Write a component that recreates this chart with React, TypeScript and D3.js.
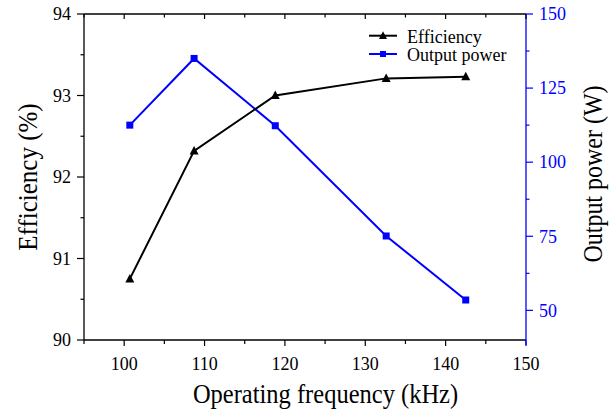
import React from "react";
import * as d3 from "d3";

const freq = [100.7, 108.7, 118.8, 132.6, 142.5];
const efficiency = [90.75, 92.32, 93.0, 93.21, 93.23];
const power = [112.5, 135.0, 112.3, 75.1, 53.5];
const xTicks = [100, 110, 120, 130, 140, 150];
const xMinor = [95, 105, 115, 125, 135, 145];
const effTicks = [90, 91, 92, 93, 94];
const effMinor = [90.5, 91.5, 92.5, 93.5];
const powTicks = [50, 75, 100, 125, 150];
const powMinor = [62.5, 87.5, 112.5, 137.5];

const W = 615, H = 417;
const L = 84, R = 526, T = 14, B = 340;
const FONT = "'Liberation Serif', 'Times New Roman', serif";
const BLUE = "#0000ff";

const x = d3.scaleLinear().domain([95, 150]).range([L, R]);
const yE = d3.scaleLinear().domain([90, 94]).range([B, T]);
const yP = d3.scaleLinear().domain([40, 150]).range([B, T]);

const tri = (cx: number, cy: number, s: number) =>
  `M${cx},${cy - s * 0.55}L${cx + s / 2},${cy + s * 0.4}L${cx - s / 2},${cy + s * 0.4}Z`;

export default function App() {
  const effLine = d3.line<number>().x((_, i) => x(freq[i])).y((d) => yE(d))(efficiency) || "";
  const powLine = d3.line<number>().x((_, i) => x(freq[i])).y((d) => yP(d))(power) || "";
  const sy = 1.1;
  return (
    <svg width={W} height={H} style={{ position: "absolute", left: 0, top: 0, fontFamily: FONT }}>
      <rect width={W} height={H} fill="#fff" />
      {/* frame */}
      <line x1={L} x2={R} y1={T} y2={T} stroke="#000" strokeWidth={1.3} />
      <line x1={L} x2={R} y1={B} y2={B} stroke="#000" strokeWidth={1.3} />
      <line x1={L} x2={L} y1={T} y2={B} stroke="#000" strokeWidth={1.3} />
      <line x1={R} x2={R} y1={T} y2={B + 5} stroke={BLUE} strokeWidth={1.3} />
      {/* x ticks */}
      {xTicks.map((t) => (
        <g key={"x" + t}>
          <line x1={x(t)} x2={x(t)} y1={B} y2={B + 6} stroke={t === 150 ? BLUE : "#000"} strokeWidth={1.2} />
          <line x1={x(t)} x2={x(t)} y1={T} y2={T + 5} stroke="#000" strokeWidth={1.2} />
          <text transform={`translate(${x(t)},${369.5}) scale(1,${sy})`} textAnchor="middle" fontSize={18} fill="#000">
            {t}
          </text>
        </g>
      ))}
      {xMinor.map((t) => (
        <g key={"xm" + t}>
          <line x1={x(t)} x2={x(t)} y1={B} y2={B + 4} stroke="#000" strokeWidth={1.2} />
          <line x1={x(t)} x2={x(t)} y1={T} y2={T + 3.5} stroke="#000" strokeWidth={1.2} />
        </g>
      ))}
      {/* left ticks */}
      {effTicks.map((t) => (
        <g key={"e" + t}>
          <line x1={L - 7} x2={L} y1={yE(t)} y2={yE(t)} stroke="#000" strokeWidth={1.2} />
          <text transform={`translate(${71},${yE(t) + 6.3}) scale(1,${sy})`} textAnchor="end" fontSize={18} fill="#000">
            {t}
          </text>
        </g>
      ))}
      {effMinor.map((t) => (
        <line key={"em" + t} x1={L - 3.5} x2={L} y1={yE(t)} y2={yE(t)} stroke="#000" strokeWidth={1.2} />
      ))}
      {/* right ticks */}
      {powTicks.map((t) => (
        <g key={"p" + t}>
          <line x1={R} x2={R + 7} y1={yP(t)} y2={yP(t)} stroke={BLUE} strokeWidth={1.2} />
          <text transform={`translate(${539},${yP(t) + 6.3}) scale(1,${sy})`} textAnchor="start" fontSize={18} fill={BLUE}>
            {t}
          </text>
        </g>
      ))}
      {powMinor.map((t) => (
        <line key={"pm" + t} x1={R} x2={R + 3.5} y1={yP(t)} y2={yP(t)} stroke={BLUE} strokeWidth={1.2} />
      ))}
      {/* axis titles */}
      <text transform={`translate(${325.5},${402.5}) scale(1,${sy})`} textAnchor="middle" fontSize={24.5} fill="#000">
        Operating frequency (kHz)
      </text>
      <text transform={`translate(${37},${177}) rotate(-90) scale(1,${sy})`} textAnchor="middle" fontSize={25} fill="#000">
        Efficiency (%)
      </text>
      <text transform={`translate(${602},${174}) rotate(-90) scale(1,${sy})`} textAnchor="middle" fontSize={24} fill="#000">
        Output power (W)
      </text>
      {/* series */}
      <path d={powLine} fill="none" stroke={BLUE} strokeWidth={2} />
      {power.map((v, i) => (
        <rect key={"ps" + i} x={x(freq[i]) - 3.5} y={yP(v) - 3.5} width={7} height={7} fill={BLUE} />
      ))}
      <path d={effLine} fill="none" stroke="#000" strokeWidth={2} />
      {efficiency.map((v, i) => (
        <path key={"et" + i} d={tri(x(freq[i]), yE(v), 9)} fill="#000" />
      ))}
      {/* legend */}
      <line x1={369} x2={397} y1={35.7} y2={35.7} stroke="#000" strokeWidth={2} />
      <path d={tri(383, 35.7, 8)} fill="#000" />
      <text x={407} y={42.5} fontSize={18} fill="#000">Efficiency</text>
      <line x1={369} x2={397} y1={54} y2={54} stroke={BLUE} strokeWidth={2} />
      <rect x={380} y={51} width={6} height={6} fill={BLUE} />
      <text x={407} y={60.8} fontSize={18} fill="#000">Output power</text>
    </svg>
  );
}
